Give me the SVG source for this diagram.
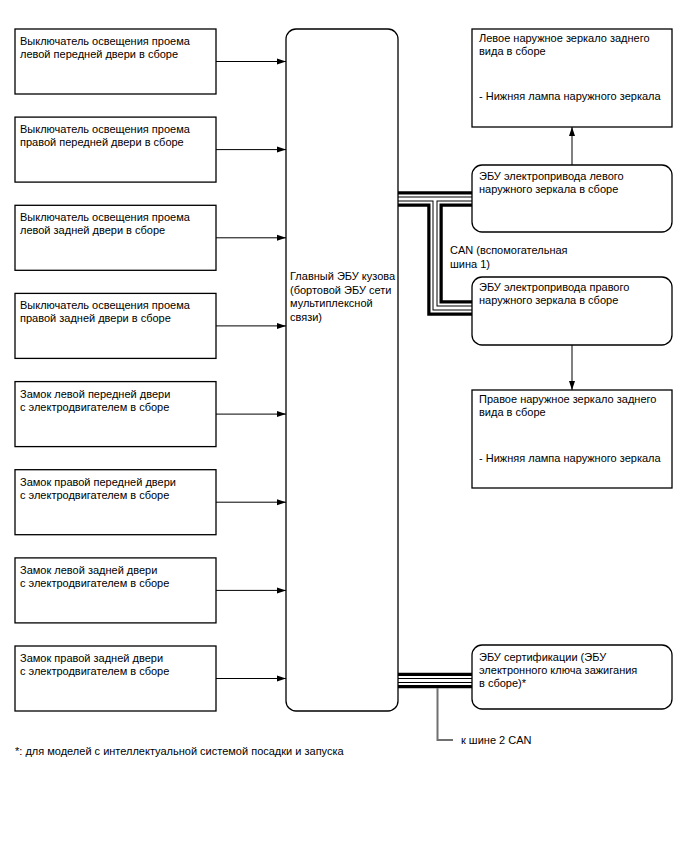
<svg xmlns="http://www.w3.org/2000/svg" width="688" height="852" viewBox="0 0 688 852">
<defs>
<style>
text{font-family:"Liberation Sans",Arial,sans-serif;font-size:11px;fill:#000}
.box{fill:#fff;stroke:#000;stroke-width:1.3}
.ln{fill:none;stroke:#000;stroke-width:1}
.b1{fill:none;stroke:#000;stroke-width:15.5}
.b2{fill:none;stroke:#fff;stroke-width:9}
.b3{fill:none;stroke:#000;stroke-width:5}
.b4{fill:none;stroke:#fff;stroke-width:3}
.stub{fill:none;stroke:#707070;stroke-width:2}
</style>
<marker id="ah" markerWidth="10" markerHeight="8" refX="9" refY="4" orient="auto" markerUnits="userSpaceOnUse"><path d="M0,1 L9,4 L0,7 z" fill="#000"/></marker>
</defs>
<rect width="688" height="852" fill="#fff"/>

<g id="connectors">
<g id="can-bus">
<path class="b1" d="M398,199 H472 M435,199 V308 H472 M398,680.5 H472"/>
<path class="b2" d="M398,199 H472 M435,199 V308 H472 M398,680.5 H472"/>
<path class="b3" d="M398,199 H472 M435,199 V308 H472 M398,680.5 H472"/>
<path class="b4" d="M398,199 H472 M435,199 V308 H472 M398,680.5 H472"/>
<path class="stub" d="M437.5,688 V740 H453"/>
</g>
<path class="ln" marker-end="url(#ah)" d="M216,61.5 H286"/>
<path class="ln" marker-end="url(#ah)" d="M216,149.6 H286"/>
<path class="ln" marker-end="url(#ah)" d="M216,237.8 H286"/>
<path class="ln" marker-end="url(#ah)" d="M216,325.9 H286"/>
<path class="ln" marker-end="url(#ah)" d="M216,414.1 H286"/>
<path class="ln" marker-end="url(#ah)" d="M216,502.2 H286"/>
<path class="ln" marker-end="url(#ah)" d="M216,590.4 H286"/>
<path class="ln" marker-end="url(#ah)" d="M216,678.5 H286"/>
<path class="ln" marker-end="url(#ah)" d="M572,165 V127"/>
<path class="ln" marker-end="url(#ah)" d="M572,345 V390"/>
<text x="450" y="254">CAN (вспомогательная</text>
<text x="450" y="268">шина 1)</text>
<text x="461" y="744">к шине 2 CAN</text>
</g>

<g id="sw-lf">
<rect class="box" x="15" y="29" width="201" height="65"/>
<text x="20" y="45">Выключатель освещения проема</text>
<text x="20" y="58">левой передней двери в сборе</text>
</g>
<g id="sw-rf">
<rect class="box" x="15" y="117.1" width="201" height="65"/>
<text x="20" y="133.1">Выключатель освещения проема</text>
<text x="20" y="146.1">правой передней двери в сборе</text>
</g>
<g id="sw-lr">
<rect class="box" x="15" y="205.3" width="201" height="65"/>
<text x="20" y="221.3">Выключатель освещения проема</text>
<text x="20" y="234.3">левой задней двери в сборе</text>
</g>
<g id="sw-rr">
<rect class="box" x="15" y="293.4" width="201" height="65"/>
<text x="20" y="309.4">Выключатель освещения проема</text>
<text x="20" y="322.4">правой задней двери в сборе</text>
</g>
<g id="lock-lf">
<rect class="box" x="15" y="381.6" width="201" height="65"/>
<text x="20" y="397.6">Замок левой передней двери</text>
<text x="20" y="410.6">с электродвигателем в сборе</text>
</g>
<g id="lock-rf">
<rect class="box" x="15" y="469.7" width="201" height="65"/>
<text x="20" y="485.7">Замок правой передней двери</text>
<text x="20" y="498.7">с электродвигателем в сборе</text>
</g>
<g id="lock-lr">
<rect class="box" x="15" y="557.9" width="201" height="65"/>
<text x="20" y="573.9">Замок левой задней двери</text>
<text x="20" y="586.9">с электродвигателем в сборе</text>
</g>
<g id="lock-rr">
<rect class="box" x="15" y="646" width="201" height="65"/>
<text x="20" y="662">Замок правой задней двери</text>
<text x="20" y="675">с электродвигателем в сборе</text>
</g>

<g id="main-ecu">
<rect class="box" x="286" y="29" width="112" height="682" rx="10"/>
<text x="290" y="280">Главный ЭБУ кузова</text>
<text x="290" y="293.5">(бортовой ЭБУ сети</text>
<text x="290" y="307">мультиплексной</text>
<text x="290" y="320.5">связи)</text>
</g>

<g id="mirror-l">
<rect class="box" x="472" y="29" width="200" height="98"/>
<text x="479" y="42">Левое наружное зеркало заднего</text>
<text x="479" y="55">вида в сборе</text>
<text x="479" y="100">- Нижняя лампа наружного зеркала</text>
</g>
<g id="ecu-mirror-l">
<rect class="box" x="472" y="165" width="200" height="67" rx="10"/>
<text x="479" y="180">ЭБУ электропривода левого</text>
<text x="479" y="193">наружного зеркала в сборе</text>
</g>
<g id="ecu-mirror-r">
<rect class="box" x="472" y="277" width="200" height="68" rx="10"/>
<text x="479" y="291">ЭБУ электропривода правого</text>
<text x="479" y="304">наружного зеркала в сборе</text>
</g>
<g id="mirror-r">
<rect class="box" x="472" y="390" width="200" height="98"/>
<text x="479" y="403">Правое наружное зеркало заднего</text>
<text x="479" y="416">вида в сборе</text>
<text x="479" y="462">- Нижняя лампа наружного зеркала</text>
</g>
<g id="ecu-cert">
<rect class="box" x="472" y="645" width="200" height="64" rx="10"/>
<text x="479" y="661">ЭБУ сертификации (ЭБУ</text>
<text x="479" y="674">электронного ключа зажигания</text>
<text x="479" y="687">в сборе)*</text>
</g>

<text x="15" y="755">*: для моделей с интеллектуальной системой посадки и запуска</text>
</svg>
